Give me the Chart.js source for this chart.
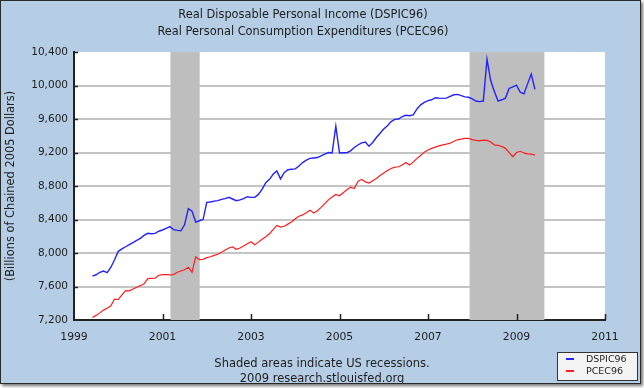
<!DOCTYPE html>
<html>
<head>
<meta charset="utf-8">
<script src="https://cdn.jsdelivr.net/npm/chart.js@4.4.0/dist/chart.umd.min.js"></script>
<style>
    body { margin: 0; background: #fff; }
    #frame {
        position: absolute; left: 0; top: 0;
        width: 639px; height: 382px;
        border: 1px solid #2a2a2a;
        background: #b5cde5;
        box-shadow: 2px 2px 3px rgba(0, 0, 0, 0.55);
    }
    canvas { display: block; }
</style>
</head>
<body>
<div id="frame"><canvas id="chart1" width="639" height="382"></canvas></div>
<script>
/***  DSPIC96 / PCEC96  ***/
var titleLines = ['Real Disposable Personal Income (DSPIC96)', 'Real Personal Consumption Expenditures (PCEC96)'];
var yAxisTitle = '(Billions of Chained 2005 Dollars)';
var notes = ['Shaded areas indicate US recessions.', '2009 research.stlouisfed.org'];
var seriesNames = ['DSPIC96', 'PCEC96'];

// monthly data, first month Jun 1999
var startYear = 1999;
var startMonth = 6;

var dspic96 = [
    7725, 7740, 7770, 7785, 7765, 7830, 7920,
    8020, 8050, 8075, 8100, 8125, 8150, 8175, 8210, 8235, 8230, 8235, 8260,
    8275, 8295, 8315, 8280, 8270, 8265, 8340, 8530, 8500, 8370, 8385, 8400,
    8605, 8610, 8620, 8625, 8640, 8650, 8665, 8645, 8625, 8635, 8650, 8672,
    8665, 8665, 8700, 8760, 8840, 8880, 8940, 8980, 8885, 8960, 8995, 9000,
    9005, 9040, 9080, 9110, 9130, 9135, 9140, 9160, 9180, 9200, 9195, 9515,
    9195, 9198, 9198, 9220, 9260, 9290, 9315, 9325, 9275, 9320, 9380, 9430,
    9480, 9520, 9570, 9596, 9600, 9630, 9645, 9640, 9650, 9720, 9770, 9800,
    9820, 9830, 9855, 9850, 9847, 9850, 9870, 9890, 9895, 9880, 9865, 9860,
    9840, 9815, 9808, 9815, 10316, 10060, 9930, 9815, 9830, 9850, 9965, 9985,
    10006, 9920, 9900, 10020, 10137, 9955
];

var pcec96 = [
    7230, 7255, 7285, 7318, 7340, 7370, 7450,
    7445, 7500, 7550, 7548, 7570, 7592, 7610, 7632, 7695, 7698, 7700, 7735,
    7741, 7742, 7740, 7742, 7770, 7785, 7800, 7830, 7770, 7955, 7920, 7925,
    7945, 7955, 7972, 7985, 8010, 8035, 8060, 8072, 8045, 8060, 8085, 8110,
    8135, 8098, 8130, 8165, 8195, 8230, 8280, 8330, 8310, 8320, 8345, 8370,
    8410, 8440, 8455, 8480, 8512, 8478, 8505, 8545, 8590, 8635, 8670, 8700,
    8683, 8720, 8755, 8785, 8770, 8855, 8880, 8850, 8835, 8862, 8890, 8925,
    8955, 8985, 9010, 9025, 9030, 9050, 9080, 9052, 9085, 9130, 9165, 9205,
    9230, 9250, 9265, 9280, 9292, 9300, 9312, 9335, 9352, 9360, 9369, 9368,
    9355, 9345, 9340, 9348, 9345, 9325, 9292, 9285, 9272, 9250, 9200, 9150,
    9200, 9215, 9195, 9185, 9180, 9170
];

// recession periods, decimal years
var recessions = [[2001.18, 2001.84], [2007.94, 2009.63]];

var xMin = 1999, xMax = 2011, xStep = 2;
var yMin = 7200, yMax = 10400, yStep = 400;

function toPoints(values) {
    var pts = [];
    for (var i = 0; i < values.length; i++) {
        pts.push({ x: startYear + (startMonth - 1 + i) / 12, y: values[i] });
    }
    return pts;
}

var font = '"DejaVu Sans", Verdana, sans-serif';
var textColor = '#1e1e1e';

var fredExtras = {
    id: 'fredExtras',
    beforeDraw: function (chart) {
        var ctx = chart.ctx, a = chart.chartArea;
        ctx.save();
        ctx.fillStyle = '#ffffff';
        ctx.fillRect(a.left, a.top, a.right - a.left, a.bottom - a.top);
        ctx.restore();
    },
    beforeDatasetsDraw: function (chart) {
        var ctx = chart.ctx, a = chart.chartArea, xs = chart.scales.x;
        ctx.save();
        ctx.fillStyle = '#bebebe';
        recessions.forEach(function (r) {
            var x0 = xs.getPixelForValue(r[0]);
            var x1 = xs.getPixelForValue(r[1]);
            ctx.fillRect(x0, a.top, x1 - x0, a.bottom - a.top);
        });
        ctx.restore();
    },
    afterDatasetsDraw: function (chart) {
        var ctx = chart.ctx, a = chart.chartArea;
        var xs = chart.scales.x, ys = chart.scales.y;
        ctx.save();
        ctx.strokeStyle = '#222';
        ctx.lineWidth = 1.5;
        ctx.beginPath();
        xs.ticks.forEach(function (t) {
            if (t.value === xMin) return;
            var x = Math.round(xs.getPixelForValue(t.value)) + 0.5;
            ctx.moveTo(x, a.bottom);
            ctx.lineTo(x, a.bottom - 6);
        });
        ys.ticks.forEach(function (t) {
            if (t.value === yMin) return;
            var y = Math.round(ys.getPixelForValue(t.value)) + 0.5;
            ctx.moveTo(a.left, y);
            ctx.lineTo(a.left + 4, y);
        });
        ctx.stroke();
        ctx.restore();
    },
    afterDraw: function (chart) {
        var ctx = chart.ctx;
        ctx.save();
        // notes below the axis
        ctx.fillStyle = textColor;
        ctx.font = '11.5px ' + font;
        ctx.textAlign = 'center';
        ctx.textBaseline = 'middle';
        ctx.fillText(notes[0], 321, 363);
        ctx.fillText(notes[1], 321, 378);

        // legend box
        ctx.fillStyle = '#f3f3f3';
        ctx.fillRect(556, 351, 80, 28);
        ctx.strokeStyle = '#333';
        ctx.lineWidth = 1;
        ctx.strokeRect(556.5, 351.5, 80, 28);
        ctx.font = '9.5px ' + font;
        ctx.textAlign = 'left';
        chart.data.datasets.forEach(function (ds, i) {
            var y = 358 + i * 12;
            ctx.strokeStyle = ds.borderColor;
            ctx.lineWidth = 2;
            ctx.beginPath();
            ctx.moveTo(565, y);
            ctx.lineTo(573, y);
            ctx.stroke();
            ctx.fillStyle = textColor;
            ctx.fillText(ds.label, 585, y + 0.5);
        });
        ctx.restore();
    }
};

var ctx1 = document.getElementById('chart1').getContext('2d');
var myChart = new Chart(ctx1, {
    type: 'line',
    data: {
        datasets: [{
            label: seriesNames[0],
            data: toPoints(dspic96),
            borderColor: '#2323ff',
            borderWidth: 1.4,
            pointRadius: 0,
            tension: 0
        }, {
            label: seriesNames[1],
            data: toPoints(pcec96),
            borderColor: '#ff1e1e',
            borderWidth: 1.2,
            pointRadius: 0,
            tension: 0
        }]
    },
    options: {
        responsive: false,
        animation: false,
        layout: { padding: { left: 0, right: 35, top: 0, bottom: 0 } },
        plugins: {
            legend: { display: false },
            tooltip: { enabled: false },
            title: {
                display: true,
                text: titleLines,
                color: textColor,
                font: { family: font, size: 11.4, weight: 'normal', lineHeight: 1.45 },
                padding: { top: 6, bottom: 12 }
            }
        },
        scales: {
            x: {
                type: 'linear',
                min: xMin,
                max: xMax,
                afterFit: function (s) { s.height = 63; },
                grid: { display: false, drawTicks: false },
                border: { display: true, color: '#222', width: 2 },
                ticks: {
                    stepSize: xStep,
                    padding: 11,
                    color: textColor,
                    font: { family: font, size: 10.8 },
                    maxRotation: 0,
                    callback: function (v) { return String(v); }
                }
            },
            y: {
                min: yMin,
                max: yMax,
                afterFit: function (s) { s.width = 73; },
                grid: {
                    drawTicks: false,
                    lineWidth: 2,
                    color: function (c) {
                        if (c.tick && (c.tick.value === yMin || c.tick.value === yMax)) return 'rgba(0,0,0,0)';
                        return '#c4c4c4';
                    }
                },
                border: { display: true, color: '#222', width: 2 },
                title: {
                    display: true,
                    text: yAxisTitle,
                    color: textColor,
                    font: { family: font, size: 11.4 },
                    padding: { top: 3, bottom: 0 }
                },
                ticks: {
                    stepSize: yStep,
                    padding: 6,
                    color: textColor,
                    font: { family: font, size: 10.5 },
                    callback: function (v) { return v.toLocaleString('en-US'); }
                }
            }
        }
    },
    plugins: [fredExtras]
});
</script>
</body>
</html>
